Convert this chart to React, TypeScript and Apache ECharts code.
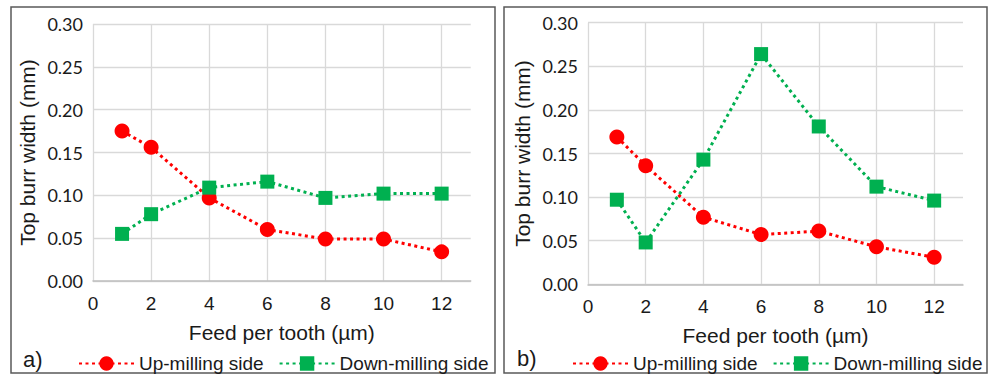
import React, { useEffect, useRef } from "react";
import * as echarts from "echarts";

const feed = [1, 2, 4, 6, 8, 10, 12];
const upA = [0.175, 0.156, 0.097, 0.060, 0.049, 0.049, 0.034];
const downA = [0.055, 0.078, 0.109, 0.116, 0.097, 0.102, 0.102];
const upB = [0.169, 0.136, 0.077, 0.057, 0.061, 0.043, 0.031];
const downB = [0.097, 0.048, 0.143, 0.264, 0.181, 0.112, 0.096];
const panelLabels = ["a)", "b)"];
const seriesNames = ["Up-milling side", "Down-milling side"];
const xTitle = "Feed per tooth (µm)";
const yTitle = "Top burr width (mm)";

const RED = "#ff0000";
const GREEN = "#00b050";
const TEXT = "#1a1a1a";
const GRID = "#d9d9d9";

const pairs = (ys: number[]) => feed.map((x, i) => [x, ys[i]]);

export default function App() {
  const ref = useRef<HTMLDivElement>(null);
  useEffect(() => {
    if (!ref.current) return;
    const chart = echarts.init(ref.current, null, { renderer: "svg" });
    const grids = [
      { left: 93, top: 24, width: 377.7, height: 257 },
      { left: 588, top: 22.7, width: 375, height: 261.6 },
    ];
    const xAxis = grids.map((_, i) => ({
      type: "value",
      gridIndex: i,
      min: 0,
      max: 13,
      interval: 2,
      name: xTitle,
      nameLocation: "middle",
      nameGap: 41,
      nameTextStyle: { fontFamily: "Liberation Sans", fontSize: 21, color: TEXT },
      axisLine: { show: true, onZero: false, lineStyle: { color: "#bfbfbf", width: 1.5 } },
      axisTick: { show: false },
      axisLabel: {
        fontFamily: "Liberation Sans",
        fontSize: 19,
        color: TEXT,
        margin: 13,
        showMaxLabel: false,
      },
      splitLine: { show: true, showMaxLine: false, lineStyle: { color: GRID, width: 1.3 } },
    }));
    const yAxis = grids.map((_, i) => ({
      type: "value",
      gridIndex: i,
      min: 0,
      max: 0.3,
      interval: 0.05,
      name: yTitle,
      nameLocation: "middle",
      nameRotate: 90,
      nameGap: 55,
      nameTextStyle: { fontFamily: "Liberation Sans", fontSize: 21, color: TEXT },
      axisLine: { show: false },
      axisTick: { show: false },
      axisLabel: {
        fontFamily: "Lato",
        fontSize: 18,
        color: TEXT,
        margin: 10,
        formatter: (v: number) => v.toFixed(2),
      },
      splitLine: { show: true, lineStyle: { color: GRID, width: 1.3 } },
    }));
    const mk = (name: string, data: number[], idx: number, color: string, symbol: string, size: number) => ({
      type: "line",
      name,
      xAxisIndex: idx,
      yAxisIndex: idx,
      data: pairs(data),
      symbol,
      symbolSize: size,
      showAllSymbol: true,
      itemStyle: { color },
      lineStyle: { color, width: 3, type: [3, 3.5] },
    });
    const series = [
      mk(seriesNames[0], upA, 0, RED, "circle", 15),
      mk(seriesNames[1], downA, 0, GREEN, "rect", 14),
      mk(seriesNames[0], upB, 1, RED, "circle", 15),
      mk(seriesNames[1], downB, 1, GREEN, "rect", 14),
    ];
    const legendBase = {
      top: 349,
      itemWidth: 55,
      itemHeight: 18,
      itemGap: 15,
      data: seriesNames,
      textStyle: { fontFamily: "Liberation Sans", fontSize: 19, color: TEXT },
      selectedMode: false,
    };
    chart.setOption({
      animation: false,
      backgroundColor: "#ffffff",
      grid: grids,
      xAxis,
      yAxis,
      series,
      legend: [
        { ...legendBase, left: 73 },
        { ...legendBase, left: 567 },
      ],
      graphic: [
        { type: "rect", shape: { x: 11, y: 7, width: 484, height: 366 }, style: { fill: "none", stroke: "#595959", lineWidth: 1.5 } },
        { type: "rect", shape: { x: 504, y: 7, width: 483, height: 366 }, style: { fill: "none", stroke: "#595959", lineWidth: 1.5 } },
        { type: "text", x: 23, y: 359, style: { text: panelLabels[0], fontFamily: "Liberation Sans", fontSize: 22, fill: TEXT, verticalAlign: "middle" } },
        { type: "text", x: 517, y: 358, style: { text: panelLabels[1], fontFamily: "Liberation Sans", fontSize: 22, fill: TEXT, verticalAlign: "middle" } },
      ],
    });
    return () => chart.dispose();
  }, []);
  return (
    <div
      ref={ref}
      style={{ position: "absolute", left: 0, top: 0, width: 989, height: 377, background: "#fff" }}
    />
  );
}
